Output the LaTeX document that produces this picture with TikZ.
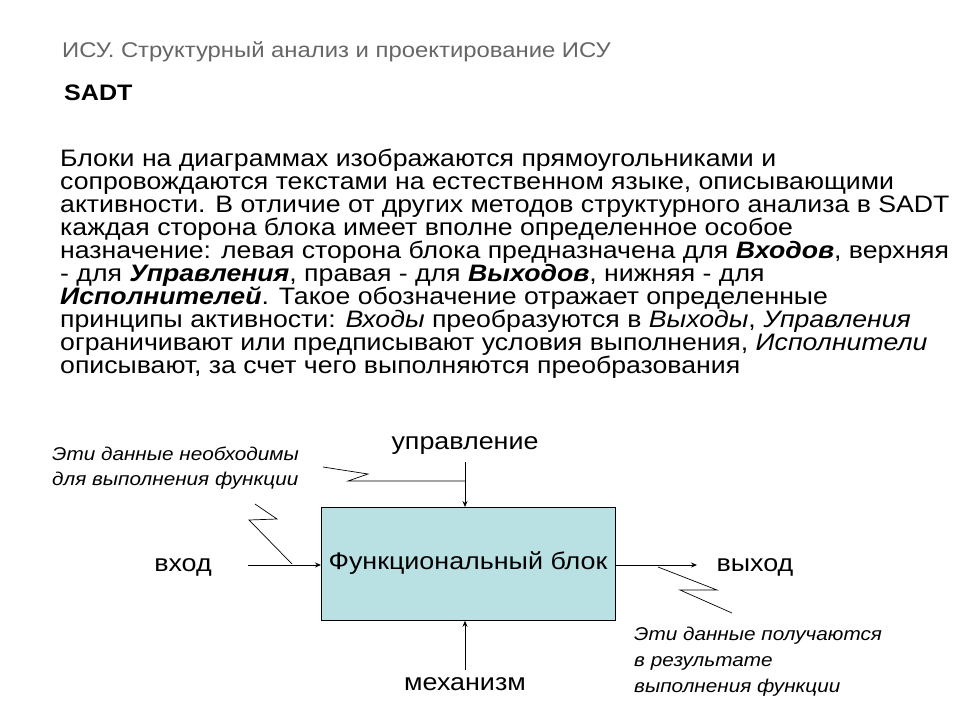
\documentclass[tikz,border=0pt]{standalone}
\usepackage{fontspec}
\setmainfont[FakeStretch=1.12]{Liberation Sans}
\usetikzlibrary{arrows.meta}
\definecolor{boxfill}{RGB}{185,224,226}
\begin{document}
\begin{tikzpicture}[x=1pt,y=-1pt,
  ln/.style={anchor=base west,inner sep=0pt,font=\fontsize{23.8}{25}\selectfont},
  it/.style={anchor=base west,inner sep=0pt,font=\fontsize{18.5}{20}\selectfont\itshape},
  lbl/.style={inner sep=0pt,font=\fontsize{24}{26}\selectfont},
  ar/.style={-{Stealth[length=6pt,width=5pt]},line width=0.8pt},
  zz/.style={line width=0.7pt}]
\useasboundingbox (0,0) rectangle (960,720);
\fill[white] (0,0) rectangle (960,720);
\node[anchor=base west,inner sep=0pt,text=black!60,font=\fontsize{21.3}{23}\selectfont] (title) at (62,57) {ИСУ. Структурный анализ и проектирование ИСУ};
\node[anchor=base west,inner sep=0pt,font=\fontsize{22.4}{24}\selectfont\bfseries] (sadt) at (64,100) {SADT};
\node[ln] (l1) at (60,166) {Блоки на диаграммах изображаются прямоугольниками и};
\node[ln] (l2) at (60,189) {сопровождаются текстами на естественном языке, описывающими};
\node[ln] (l3) at (60,212) {активности. В отличие от других методов структурного анализа в SADT};
\node[ln] (l4) at (60,235) {каждая сторона блока имеет вполне определенное особое};
\node[ln] (l5) at (60,258) {назначение: левая сторона блока предназначена для \textbf{\textit{Входов}}, верхняя};
\node[ln] (l6) at (60,281) {- для \textbf{\textit{Управления}}, правая - для \textbf{\textit{Выходов}}, нижняя - для};
\node[ln] (l7) at (60,304) {\textbf{\textit{Исполнителей}}. Такое обозначение отражает определенные};
\node[ln] (l8) at (60,327) {принципы активности: \textit{Входы} преобразуются в \textit{Выходы}, \textit{Управления}};
\node[ln] (l9) at (60,350) {ограничивают или предписывают условия выполнения, \textit{Исполнители}};
\node[ln] (l10) at (60,373) {описывают, за счет чего выполняются преобразования};

\node[draw,fill=boxfill,line width=0.8pt,minimum width=294pt,minimum height=113pt,anchor=north west,inner sep=0pt] (box) at (321,507) {};
\node[lbl] (fb) at (468,563) {Функциональный блок};

\node[lbl] (ctl) at (465,446) {управление};
\node[lbl] (in) at (183,567) {вход};
\node[lbl] (out) at (755,567) {выход};
\node[lbl] (mech) at (465,684) {механизм};

\coordinate (ctop) at (465,462);
\coordinate (inl) at (248,565);
\coordinate (outr) at (697,565);
\coordinate (mbot) at (465,670);
\draw[ar] (ctop) -- (box.north -| ctop);
\draw[ar] (inl) -- (box.west |- inl);
\draw[ar] (box.east |- outr) -- (outr);
\draw[ar] (mbot) -- (box.south -| mbot);

\draw[zz] (323,467) -- (368,474) -- (348,481) -- (465,481);
\draw[zz] (255,504) -- (277,519) -- (249,520) -- (292,564);
\draw[zz] (658,567) -- (717,590) -- (680,590) -- (732,613);

\node[it] (t1) at (52,460) {Эти данные необходимы};
\node[it] (t2) at (52,485) {для выполнения функции};
\node[it] (t3) at (634,640) {Эти данные получаются};
\node[it] (t4) at (634,666) {в результате};
\node[it] (t5) at (634,692) {выполнения функции};
\end{tikzpicture}
\end{document}
